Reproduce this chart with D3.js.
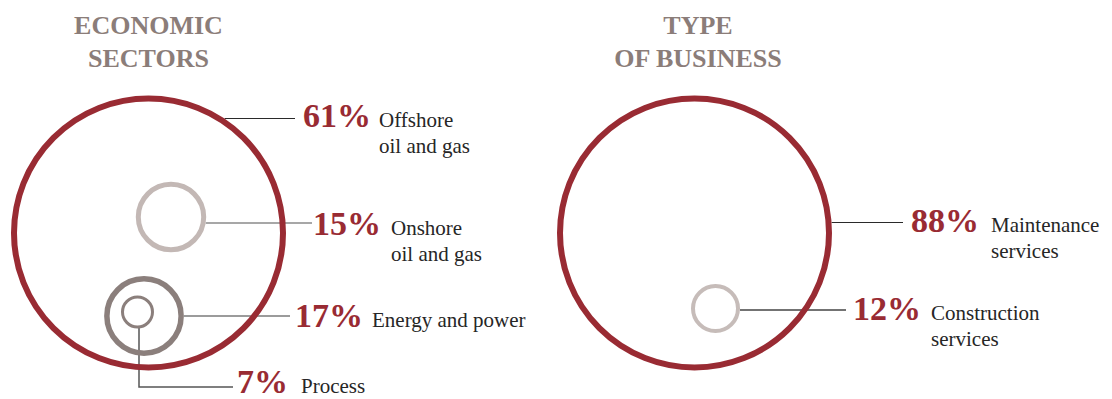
<!DOCTYPE html>
<html>
<head>
<meta charset="utf-8">
<script src="https://cdn.jsdelivr.net/npm/d3@7/dist/d3.min.js"></script>
<style>
  html, body { margin: 0; padding: 0; background: #ffffff; }
  svg { display: block; }
  svg text { font-family: "Liberation Serif", "DejaVu Serif", serif; }
</style>
</head>
<body>
<svg id="chart" width="1112" height="399"></svg>
<script>
// ---- data ----
const sectorTitle = ["ECONOMIC", "SECTORS"];
const sectorValues = [61, 15, 17, 7];
const sectorLabels = [["Offshore", "oil and gas"], ["Onshore", "oil and gas"], ["Energy and power"], ["Process"]];

const businessTitle = ["TYPE", "OF BUSINESS"];
const businessValues = [88, 12];
const businessLabels = [["Maintenance", "services"], ["Construction", "services"]];

// ---- styling ----
const RED = "#992b33";
const TITLE = "#8b7d79";
const TEXT = "#262626";

const svg = d3.select("#chart");
svg.append("rect").attr("width", 1112).attr("height", 399).attr("fill", "#fff");

// placement of each ring and its callout
const panels = [
  {
    title: sectorTitle, values: sectorValues, labels: sectorLabels,
    titleX: 148.5, rRange: [15, 134.5],
    layout: [
      { cx: 148.5, cy: 233, sw: 6,   color: RED,       leader: { kind: "h", y: 118.5, x2: 295 }, lineColor: "#2a2a2a", lw: 1,   pctX: 303, baseY: 127, labelX: 379 },
      { cx: 171,   cy: 217, sw: 5,   color: "#c3b8b5", leader: { kind: "h", y: 223, x2: 312 }, lineColor: "#8a8a8a", lw: 1.5, pctX: 313, baseY: 235, labelX: 391 },
      { cx: 144,   cy: 316, sw: 5.5, color: "#8b7f7c", leader: { kind: "h", y: 316, x2: 290 }, lineColor: "#7a7a7a", lw: 1.5, pctX: 295, baseY: 327, labelX: 372 },
      { cx: 137.5, cy: 312, sw: 3,   color: "#8b7f7c", leader: { kind: "elbow", x: 139, y: 387, x2: 233 }, lineColor: "#555", lw: 1.5, pctX: 237, baseY: 393, labelX: 301 }
    ]
  },
  {
    title: businessTitle, values: businessValues, labels: businessLabels,
    titleX: 698, rRange: [22.5, 134.5],
    layout: [
      { cx: 694.5, cy: 233,   sw: 6, color: RED,       leader: { kind: "h", y: 222.5, x2: 903 }, lineColor: "#2a2a2a", lw: 1, pctX: 911, baseY: 232, labelX: 991 },
      { cx: 715.5, cy: 308.5, sw: 4, color: "#c6bcb9", leader: { kind: "h", y: 310, x2: 846 }, lineColor: "#444", lw: 1.3, pctX: 853, baseY: 320, labelX: 931 }
    ]
  }
];

panels.forEach(p => {
  const r = d3.scaleLinear().domain(d3.extent(p.values)).range(p.rRange);
  const g = svg.append("g");

  // title
  g.append("text")
    .attr("text-anchor", "middle")
    .attr("font-weight", "bold")
    .attr("font-size", 26).attr("fill", TITLE)
    .selectAll("tspan").data(p.title).join("tspan")
    .attr("x", p.titleX).attr("y", (d, i) => 34.3 + i * 32.4)
    .text(d => d);

  const items = p.values.map((v, i) => ({ v, label: p.labels[i], ...p.layout[i], r: r(v) }));

  // leader lines
  g.selectAll("path.leader").data(items).join("path")
    .attr("class", "leader")
    .attr("fill", "none")
    .attr("stroke", d => d.lineColor)
    .attr("stroke-width", d => d.lw)
    .attr("d", d => {
      const L = d.leader;
      const R = d.r + d.sw / 2;
      if (L.kind === "h") {
        const dy = L.y - d.cy;
        const x1 = d.cx + Math.sqrt(Math.max(0, R * R - dy * dy));
        return d3.line()([[x1, L.y], [L.x2, L.y]]);
      }
      return d3.line()([[L.x, d.cy + R - 1], [L.x, L.y], [L.x2, L.y]]);
    });

  // rings
  g.selectAll("circle").data(items).join("circle")
    .attr("cx", d => d.cx).attr("cy", d => d.cy)
    .attr("r", d => d.r)
    .attr("fill", "none")
    .attr("stroke", d => d.color)
    .attr("stroke-width", d => d.sw);

  // percentages
  g.selectAll("text.pct").data(items).join("text")
    .attr("class", "pct")
    .attr("x", d => d.pctX).attr("y", d => d.baseY)
    .attr("font-weight", "bold")
    .attr("font-size", 34).attr("fill", RED)
    .text(d => d.v + "%");

  // category labels
  g.selectAll("text.lbl").data(items).join("text")
    .attr("class", "lbl")
    .attr("font-size", 21).attr("fill", TEXT)
    .each(function (d) {
      d3.select(this).selectAll("tspan").data(d.label).join("tspan")
        .attr("x", d.labelX).attr("y", (t, i) => d.baseY + i * 26)
        .text(t => t);
    });
});
</script>
</body>
</html>
